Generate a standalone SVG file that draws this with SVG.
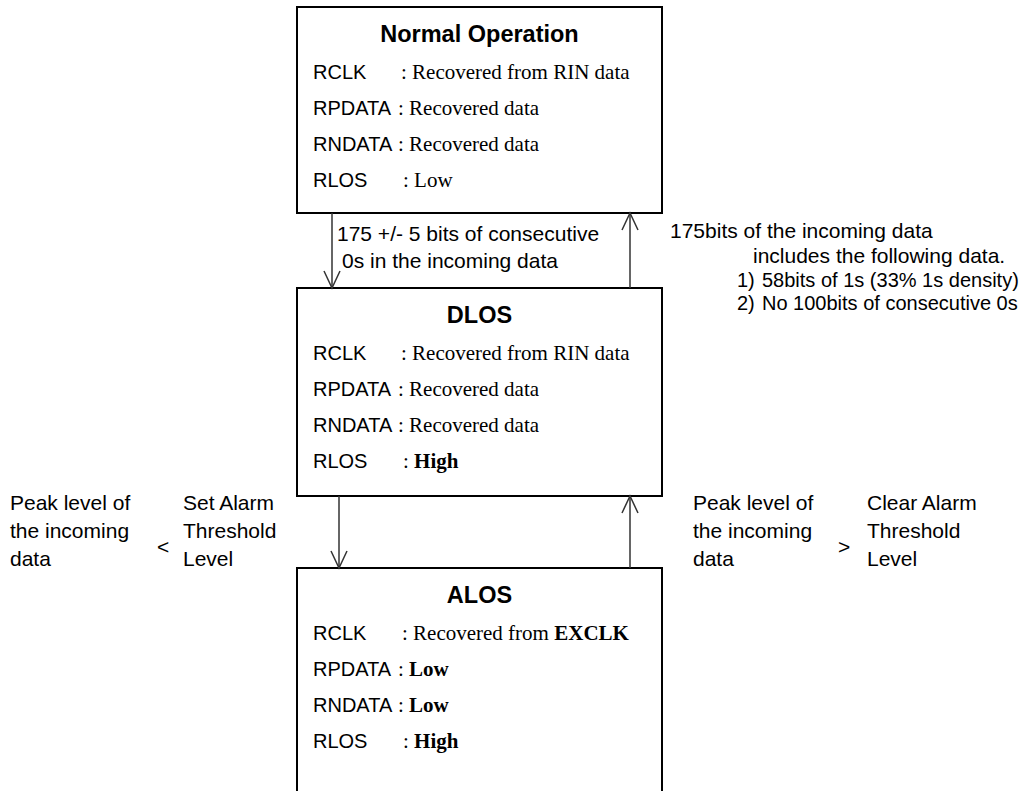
<svg xmlns="http://www.w3.org/2000/svg" width="1023" height="791" viewBox="0 0 1023 791">
<style>
.box{fill:#fff;stroke:#000;stroke-width:2}
.title{font-family:"Liberation Sans",Arial,sans-serif;font-size:23.5px;font-weight:bold;text-anchor:middle;fill:#000}
.lab{font-family:"Liberation Sans",Arial,sans-serif;font-size:21px;fill:#000}
.key{font-family:"Liberation Sans",Arial,sans-serif;font-size:20px;fill:#000}
.sm{font-family:"Liberation Sans",Arial,sans-serif;font-size:20px;fill:#000}
.val{font-family:"Liberation Serif","Times New Roman",serif;font-size:21px;fill:#000}
.b{font-weight:bold}
.edge{stroke:#333;stroke-width:1.5;fill:none}
</style>
<defs>
<marker id="arr" viewBox="0 0 20 20" refX="18" refY="10" markerWidth="20" markerHeight="20" markerUnits="userSpaceOnUse" orient="auto">
<path d="M1,2 L18,10 L1,18" fill="none" stroke="#333" stroke-width="1.5"/>
</marker>
</defs>
<g id="normal">
<rect class="box" x="297" y="7" width="365" height="206"/>
<text class="title" x="479.5" y="42">Normal Operation</text>
<text class="key" x="313" y="79">RCLK</text><text class="val" x="401" y="79">: Recovered from RIN data</text>
<text class="key" x="313" y="115">RPDATA</text><text class="val" x="398" y="115">: Recovered data</text>
<text class="key" x="313" y="151">RNDATA</text><text class="val" x="398" y="151">: Recovered data</text>
<text class="key" x="313" y="187">RLOS</text><text class="val" x="403" y="187">: Low</text>
</g>
<g id="dlos">
<rect class="box" x="297" y="288" width="365" height="208"/>
<text class="title" x="479.5" y="323">DLOS</text>
<text class="key" x="313" y="360">RCLK</text><text class="val" x="401" y="360">: Recovered from RIN data</text>
<text class="key" x="313" y="396">RPDATA</text><text class="val" x="398" y="396">: Recovered data</text>
<text class="key" x="313" y="432">RNDATA</text><text class="val" x="398" y="432">: Recovered data</text>
<text class="key" x="313" y="468">RLOS</text><text class="val" x="403" y="468">: <tspan class="b">High</tspan></text>
</g>
<g id="alos">
<rect class="box" x="297" y="568" width="365" height="240"/>
<text class="title" x="479.5" y="603">ALOS</text>
<text class="key" x="313" y="640">RCLK</text><text class="val" x="402" y="640">: Recovered from <tspan class="b">EXCLK</tspan></text>
<text class="key" x="313" y="676">RPDATA</text><text class="val" x="398" y="676">: <tspan class="b">Low</tspan></text>
<text class="key" x="313" y="712">RNDATA</text><text class="val" x="398" y="712">: <tspan class="b">Low</tspan></text>
<text class="key" x="313" y="748">RLOS</text><text class="val" x="403" y="748">: <tspan class="b">High</tspan></text>
</g>
<g id="connectors">
<line class="edge" x1="332" y1="213" x2="332" y2="288" marker-end="url(#arr)"/>
<line class="edge" x1="630" y1="288" x2="630" y2="213" marker-end="url(#arr)"/>
<line class="edge" x1="339" y1="496" x2="339" y2="568" marker-end="url(#arr)"/>
<line class="edge" x1="630" y1="568" x2="630" y2="496" marker-end="url(#arr)"/>
</g>
<g id="labels">
<text class="lab" x="337" y="241">175 +/- 5 bits of consecutive</text>
<text class="lab" x="342" y="268">0s in the incoming data</text>
<text class="lab" x="670" y="238">175bits of the incoming data</text>
<text class="lab" x="753" y="263">includes the following data.</text>
<text class="sm" x="737" y="287">1)</text><text class="sm" x="762" y="287">58bits of 1s (33% 1s density)</text>
<text class="sm" x="737" y="310">2)</text><text class="sm" x="762" y="310">No 100bits of consecutive 0s</text>
<text class="lab" x="10" y="510">Peak level of</text>
<text class="lab" x="10" y="538">the incoming</text>
<text class="lab" x="10" y="566">data</text>
<text class="lab" x="157" y="554">&lt;</text>
<text class="lab" x="183" y="510">Set Alarm</text>
<text class="lab" x="183" y="538">Threshold</text>
<text class="lab" x="183" y="566">Level</text>
<text class="lab" x="693" y="510">Peak level of</text>
<text class="lab" x="693" y="538">the incoming</text>
<text class="lab" x="693" y="566">data</text>
<text class="lab" x="838" y="554">&gt;</text>
<text class="lab" x="867" y="510">Clear Alarm</text>
<text class="lab" x="867" y="538">Threshold</text>
<text class="lab" x="867" y="566">Level</text>
</g>
</svg>
